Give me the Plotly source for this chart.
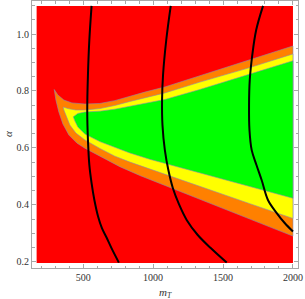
import plotly.graph_objects as go

# ---- data ----
# plotted domain of the region plot
m_domain = [167, 2000]
alpha_domain = [0.1955, 1.0985]

# red/orange boundary (tip -> m=2000), upper and lower branch
orange_up_m = [293, 319, 362, 419, 512, 619, 726, 834, 941, 1084, 1334, 1691, 2000]
orange_up_a = [0.805, 0.786, 0.768, 0.758, 0.754, 0.756, 0.766, 0.782, 0.796, 0.814, 0.854, 0.910, 0.958]
orange_lo_m = [293, 305, 326, 355, 398, 455, 512, 619, 762, 905, 976, 1084, 1334, 1691, 2000]
orange_lo_a = [0.805, 0.768, 0.726, 0.684, 0.645, 0.617, 0.599, 0.571, 0.534, 0.503, 0.487, 0.466, 0.418, 0.350, 0.290]

# orange/yellow boundary
yellow_up_m = [357, 391, 448, 512, 619, 726, 834, 941, 1084, 1334, 1691, 2000]
yellow_up_a = [0.7435, 0.738, 0.733, 0.733, 0.738, 0.749, 0.763, 0.777, 0.793, 0.831, 0.882, 0.930]
yellow_lo_m = [357, 362, 376, 405, 448, 512, 619, 726, 834, 976, 1084, 1334, 1691, 2000]
yellow_lo_a = [0.7435, 0.733, 0.712, 0.680, 0.652, 0.628, 0.598, 0.571, 0.550, 0.525, 0.506, 0.464, 0.404, 0.352]

# yellow/green boundary
green_up_m = [429, 462, 512, 619, 726, 834, 941, 1084, 1334, 1691, 2000]
green_up_a = [0.709, 0.721, 0.726, 0.729, 0.736, 0.747, 0.758, 0.770, 0.805, 0.858, 0.906]
green_lo_m = [429, 441, 462, 512, 619, 726, 834, 976, 1084, 1334, 1691, 2000]
green_lo_a = [0.709, 0.694, 0.673, 0.649, 0.622, 0.601, 0.582, 0.560, 0.545, 0.513, 0.464, 0.423]

# black curves
c1_m = [560, 544, 534, 529, 534, 544, 560, 580, 607, 634, 667, 705, 755]
c1_a = [1.099, 0.979, 0.856, 0.733, 0.628, 0.540, 0.476, 0.417, 0.358, 0.318, 0.285, 0.245, 0.197]
c2_m = [1126, 1094, 1071, 1064, 1067, 1084, 1109, 1141, 1184, 1241, 1319, 1412, 1526]
c2_a = [1.099, 0.979, 0.856, 0.768, 0.680, 0.592, 0.522, 0.459, 0.403, 0.346, 0.294, 0.248, 0.197]
c3_m = [1786, 1737, 1709, 1691, 1686, 1689, 1705, 1739, 1776, 1821, 1884, 1941, 2000]
c3_a = [1.099, 1.014, 0.926, 0.838, 0.751, 0.663, 0.592, 0.540, 0.487, 0.417, 0.371, 0.336, 0.306]

x_ticks = [500, 1000, 1500, 2000]
y_ticks = [0.2, 0.4, 0.6, 0.8, 1.0]
y_tick_text = ["0.2", "0.4", "0.6", "0.8", "1.0"]

RED = "#FF0000"
ORANGE = "#FF8000"
YELLOW = "#FFFF00"
GREEN = "#00FF00"
EDGE = "rgba(140,140,175,0.75)"

fig = go.Figure()


def band(um, ua, lm, la, color):
    xs = list(um) + list(reversed(lm))
    ys = list(ua) + list(reversed(la))
    fig.add_trace(go.Scatter(x=xs, y=ys, mode="lines", fill="toself",
                             fillcolor=color, line=dict(color=EDGE, width=0.8),
                             hoverinfo="skip", showlegend=False))


band(orange_up_m, orange_up_a, orange_lo_m, orange_lo_a, ORANGE)
band(yellow_up_m, yellow_up_a, yellow_lo_m, yellow_lo_a, YELLOW)
band(green_up_m, green_up_a, green_lo_m, green_lo_a, GREEN)

for cm, ca in [(c1_m, c1_a), (c2_m, c2_a), (c3_m, c3_a)]:
    fig.add_trace(go.Scatter(x=cm, y=ca, mode="lines", line=dict(color="black", width=2, shape="spline"),
                             hoverinfo="skip", showlegend=False))

fig.add_shape(type="rect", x0=m_domain[0], x1=m_domain[1], y0=alpha_domain[0], y1=alpha_domain[1],
              fillcolor=RED, line=dict(width=0), layer="below")

FRAME = "#a8a8a8"
TICKFONT = dict(family="Liberation Serif", size=10, color="#333333")

fig.update_xaxes(range=[134, 2036], showgrid=False, zeroline=False,
                 showline=True, linecolor=FRAME, linewidth=1, mirror="ticks",
                 ticks="inside", ticklen=4, tickcolor=FRAME, tickwidth=1,
                 tickvals=x_ticks, ticktext=[str(v) for v in x_ticks], tickfont=TICKFONT,
                 minor=dict(ticks="inside", ticklen=2.5, tickcolor=FRAME, dtick=100, tick0=0, showgrid=False))
fig.update_yaxes(range=[0.178, 1.116], showgrid=False, zeroline=False,
                 showline=True, linecolor=FRAME, linewidth=1, mirror="ticks",
                 ticks="inside", ticklen=4, tickcolor=FRAME, tickwidth=1,
                 tickvals=y_ticks, ticktext=y_tick_text, tickfont=TICKFONT,
                 minor=dict(ticks="inside", ticklen=2.5, tickcolor=FRAME, dtick=0.05, tick0=0, showgrid=False))

fig.add_annotation(text="<i>m</i><sub><i>T</i></sub>", xref="paper", yref="paper", x=0.5, y=-0.093,
                   yanchor="middle", xanchor="center", showarrow=False,
                   font=dict(family="Liberation Serif", size=11, color="#333333"))
fig.add_annotation(text="<i>α</i>", xref="paper", yref="paper", x=-0.092, y=0.5,
                   xanchor="center", yanchor="middle", showarrow=False, textangle=-90,
                   font=dict(family="Liberation Serif", size=11, color="#333333"))

fig.update_layout(width=305, height=299, margin=dict(l=32, r=7, t=1, b=31),
                  plot_bgcolor="white", paper_bgcolor="white")

fig.write_html("out.html", config={"displayModeBar": False},
               post_script="document.body.style.margin='0';document.body.style.overflow='hidden';")
